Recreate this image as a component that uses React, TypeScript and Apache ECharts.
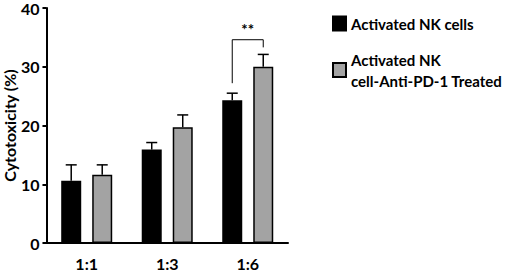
import React, { useEffect, useRef } from "react";
import * as echarts from "echarts";

const categories = ["1:1", "1:3", "1:6"];
const seriesNames = ["Activated NK cells", "Activated NK\ncell-Anti-PD-1 Treated"];
const nkValues = [10.6, 15.9, 24.3];
const nkErrors = [2.7, 1.2, 1.2];
const pdValues = [11.6, 19.7, 30.0];
const pdErrors = [1.7, 2.1, 2.1];
const yTicks = [0, 10, 20, 30, 40];
// significance bracket: category, left leg bottom, top, right leg bottom
const sigBracket = [2, 27.2, 34.6, 33.3];
const sigLabel = "**";

const FONT = "Lato";
const BAR_OFFSET = 15.5;

export default function App() {
  const ref = useRef<HTMLDivElement>(null);
  useEffect(() => {
    if (!ref.current) return;
    const chart = echarts.init(ref.current, undefined, { renderer: "svg" });
    const errData = [
      ...categories.map((_, i) => [i, nkValues[i], nkValues[i] + nkErrors[i], -1]),
      ...categories.map((_, i) => [i, pdValues[i], pdValues[i] + pdErrors[i], 1]),
    ];
    chart.setOption({
      animation: false,
      grid: { left: 43, right: 217, top: 7, bottom: 25 },
      legend: {
        orient: "vertical",
        left: 327,
        top: 8,
        itemWidth: 13,
        itemHeight: 14,
        itemGap: 15,
        icon: "rect",
        data: seriesNames,
        textStyle: { fontFamily: FONT, fontWeight: "bold", fontSize: 15, color: "#000", lineHeight: 21 },
        selectedMode: false,
      },
      xAxis: {
        type: "category",
        data: categories,
        axisLine: { lineStyle: { color: "#000", width: 2 } },
        axisTick: { show: false },
        axisLabel: { fontFamily: FONT, fontWeight: "bold", fontSize: 16, color: "#000", margin: 12 },
      },
      yAxis: {
        type: "value",
        min: 0,
        max: 40,
        interval: 10,
        name: "Cytotoxicity (%)",
        nameLocation: "middle",
        nameGap: 29,
        nameTextStyle: { fontFamily: FONT, fontWeight: "bold", fontSize: 16, color: "#000" },
        axisLine: { show: true, lineStyle: { color: "#000", width: 2 } },
        axisTick: { show: true, length: 4, lineStyle: { color: "#000", width: 2 } },
        splitLine: { show: false },
        axisLabel: {
          fontFamily: FONT,
          fontWeight: "bold",
          fontSize: 16,
          color: "#000",
          margin: 7,
          formatter: (v: number) => (yTicks.includes(v) ? String(v) : ""),
        },
      },
      series: [
        {
          name: seriesNames[0],
          type: "bar",
          data: nkValues,
          barWidth: 20,
          barGap: "55%",
          itemStyle: { color: "#000", borderColor: "#000", borderWidth: 1.5 },
        },
        {
          name: seriesNames[1],
          type: "bar",
          data: pdValues,
          barWidth: 20,
          itemStyle: { color: "#a3a3a3", borderColor: "#000", borderWidth: 1.5 },
        },
        {
          type: "custom",
          data: errData,
          z: 10,
          renderItem: (params: any, api: any) => {
            const c = api.value(0);
            const base = api.coord([c, api.value(1)]);
            const top = api.coord([c, api.value(2)]);
            const x = base[0] + api.value(3) * BAR_OFFSET;
            const style = { stroke: "#000", lineWidth: 1.5 };
            return {
              type: "group",
              children: [
                { type: "line", shape: { x1: x, y1: base[1], x2: x, y2: top[1] }, style },
                { type: "line", shape: { x1: x - 5.5, y1: top[1], x2: x + 5.5, y2: top[1] }, style },
              ],
            };
          },
        },
        {
          type: "custom",
          data: [sigBracket],
          z: 10,
          renderItem: (params: any, api: any) => {
            const c = api.value(0);
            const l = api.coord([c, api.value(1)]);
            const t = api.coord([c, api.value(2)]);
            const r = api.coord([c, api.value(3)]);
            const xl = l[0] - BAR_OFFSET;
            const xr = l[0] + BAR_OFFSET;
            return {
              type: "group",
              children: [
                {
                  type: "polyline",
                  shape: { points: [[xl, l[1]], [xl, t[1]], [xr, t[1]], [xr, r[1]]] },
                  style: { stroke: "#000", lineWidth: 1, fill: "none" },
                },
                {
                  type: "text",
                  x: l[0],
                  y: t[1] - 3,
                  style: {
                    text: sigLabel,
                    fontFamily: FONT,
                    fontWeight: "bold",
                    fontSize: 15,
                    fill: "#000",
                    align: "center",
                    verticalAlign: "bottom",
                  },
                },
              ],
            };
          },
        },
      ],
    });
    return () => chart.dispose();
  }, []);
  return <div ref={ref} style={{ width: 505, height: 271, position: "absolute", left: 0, top: 0 }} />;
}
